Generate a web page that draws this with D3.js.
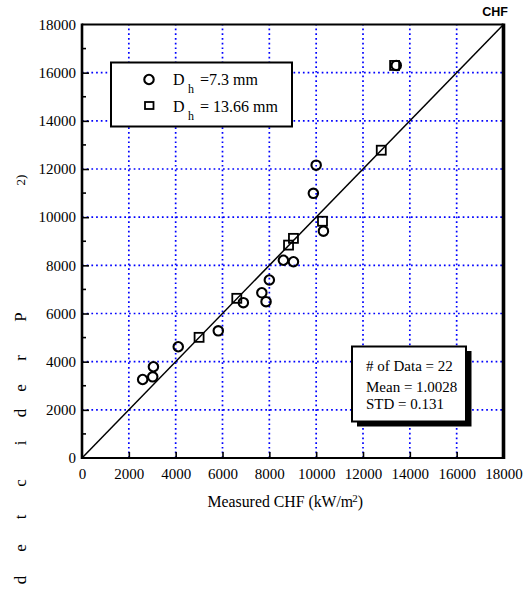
<!DOCTYPE html>
<html>
<head>
<meta charset="utf-8">
<script src="https://cdn.jsdelivr.net/npm/d3@7/dist/d3.min.js"></script>
<style>
body{margin:0;background:#fff;}
svg{display:block;}
text{font-family:"Liberation Serif","Times New Roman",serif;fill:#000;}
</style>
</head>
<body>
<svg id="chart" width="531" height="590"></svg>
<script>
// ---- data ----
const seriesSmall = [ // Dh = 7.3 mm  [measured, predicted]
  [13420, 16300], [10000, 12160], [9880, 10990], [10310, 9420],
  [9030, 8150], [8600, 8210], [8000, 7390], [7680, 6860],
  [7860, 6490], [6890, 6450], [5820, 5280], [4110, 4620],
  [3050, 3790], [3020, 3370], [2590, 3260]
];
const seriesLarge = [ // Dh = 13.66 mm
  [13350, 16300], [12780, 12780], [10270, 9830], [9030, 9120],
  [8820, 8840], [6610, 6630], [5000, 5010]
];
const xTicks = [0, 2000, 4000, 6000, 8000, 10000, 12000, 14000, 16000, 18000];
const yTicks = [0, 2000, 4000, 6000, 8000, 10000, 12000, 14000, 16000, 18000];
const yMinorTicks = [1000, 3000, 5000, 7000, 9000, 11000, 13000, 15000, 17000];
const legendLabels = ["=7.3 mm", "= 13.66 mm"];
const statsLines = ["# of Data = 22", "Mean = 1.0028", "STD = 0.131"];
const yLabelLetters = ["P","r","e","d","i","c","t","e","d"];

// ---- layout ----
const SERIF = '"Liberation Serif","Times New Roman",serif';
const svg = d3.select("#chart");
const x = d3.scaleLinear().domain([0, 18000]).range([82, 503.5]);
const y = d3.scaleLinear().domain([0, 18000]).range([458, 24.5]);

// grid
const grid = svg.append("g");
grid.selectAll(".gx").data(xTicks.slice(1, -1)).join("line")
  .attr("x1", d => x(d)).attr("x2", d => x(d))
  .attr("y1", y(0)).attr("y2", y(18000))
  .attr("stroke", "#0000ff").attr("stroke-width", 1.7).attr("stroke-dasharray", "1.7,3");
grid.selectAll(".gy").data(yTicks.slice(1, -1)).join("line")
  .attr("y1", d => y(d)).attr("y2", d => y(d))
  .attr("x1", x(0)).attr("x2", x(18000))
  .attr("stroke", "#0000ff").attr("stroke-width", 1.7).attr("stroke-dasharray", "1.7,3");

// axes via d3
const xAxis = d3.axisBottom(x).tickValues(xTicks).tickSize(-6).tickPadding(10).tickFormat(d3.format("d"));
const gx = svg.append("g").attr("transform", `translate(0,${y(0)})`).call(xAxis)
  .attr("font-family", SERIF).attr("font-size", 15);
gx.select(".domain").remove();
gx.selectAll(".tick line").attr("stroke-width", 1.6).filter(d => d === 0 || d === 18000).remove();
gx.selectAll(".tick text").style("font-family", SERIF).style("font-size", "15px");

const yAxis = d3.axisLeft(y).tickValues(yTicks).tickSize(-7).tickPadding(6).tickFormat(d3.format("d"));
const gy = svg.append("g").attr("transform", `translate(${x(0)},0)`).call(yAxis)
  .attr("font-family", SERIF).attr("font-size", 15);
gy.select(".domain").remove();
gy.selectAll(".tick line").attr("stroke-width", 1.6).filter(d => d === 0 || d === 18000).remove();
gy.selectAll(".tick text").style("font-family", SERIF).style("font-size", "15px");

svg.append("g").selectAll("line").data(yMinorTicks).join("line")
  .attr("x1", x(0)).attr("x2", x(0) + 4)
  .attr("y1", d => y(d)).attr("y2", d => y(d))
  .attr("stroke", "#000").attr("stroke-width", 1.6);

// frame
svg.append("line").attr("x1", x(0)).attr("x2", x(18000)).attr("y1", y(18000)).attr("y2", y(18000)).attr("stroke", "#000").attr("stroke-width", 2);
svg.append("line").attr("x1", x(0)).attr("x2", x(18000)).attr("y1", y(0)).attr("y2", y(0)).attr("stroke", "#000").attr("stroke-width", 2);
svg.append("line").attr("x1", x(0)).attr("x2", x(0)).attr("y1", y(0) + 1).attr("y2", y(18000) - 1).attr("stroke", "#000").attr("stroke-width", 2.6);
svg.append("line").attr("x1", x(18000)).attr("x2", x(18000)).attr("y1", y(0) + 1).attr("y2", y(18000) - 1).attr("stroke", "#000").attr("stroke-width", 3.6);

// diagonal
svg.append("line").attr("x1", x(0)).attr("y1", y(0)).attr("x2", x(18000)).attr("y2", y(18000))
  .attr("stroke", "#000").attr("stroke-width", 1.5);

// markers
const circ = d3.symbol().type(d3.symbolCircle).size(70);
svg.append("g").selectAll("path").data(seriesSmall).join("path")
  .attr("d", circ)
  .attr("transform", d => `translate(${x(d[0])},${y(d[1])})`)
  .attr("fill", "none").attr("stroke", "#000").attr("stroke-width", 2.1);
svg.append("g").selectAll("rect").data(seriesLarge).join("rect")
  .attr("x", d => x(d[0]) - 4.5).attr("y", d => y(d[1]) - 4.5)
  .attr("width", 9).attr("height", 9)
  .attr("fill", "none").attr("stroke", "#000").attr("stroke-width", 1.8);

// legend
const lg = svg.append("g");
lg.append("rect").attr("x", 111).attr("y", 62.5).attr("width", 181).attr("height", 64)
  .attr("fill", "#fff").attr("stroke", "#000").attr("stroke-width", 2);
lg.append("path").attr("d", circ).attr("transform", "translate(149,79.5)")
  .attr("fill", "none").attr("stroke", "#000").attr("stroke-width", 2.1);
lg.append("rect").attr("x", 145).attr("y", 102).attr("width", 8.5).attr("height", 7)
  .attr("fill", "none").attr("stroke", "#000").attr("stroke-width", 1.8);
legendLabels.forEach((lab, i) => {
  const by = 85 + i * 26.5;
  lg.append("text").attr("x", 173).attr("y", by).style("font-size", "16px").text("D");
  lg.append("text").attr("x", 188).attr("y", by + 8).style("font-size", "12px").text("h");
  lg.append("text").attr("x", 200).attr("y", by).style("font-size", "16px").text(lab);
});

// stats box
const sb = svg.append("g");
sb.append("rect").attr("x", 357).attr("y", 351).attr("width", 114.5).attr("height", 75.5).attr("fill", "#000");
sb.append("rect").attr("x", 352).attr("y", 346.5).attr("width", 114).attr("height", 75)
  .attr("fill", "#fff").attr("stroke", "#000").attr("stroke-width", 2);
statsLines.forEach((t, i) => {
  sb.append("text").attr("x", 366).attr("y", 371 + [0, 20.5, 37.5][i]).style("font-size", "15px").text(t);
});

// title
svg.append("text").attr("x", 508).attr("y", 16).attr("text-anchor", "end")
  .style("font-family", '"Liberation Sans",Arial,sans-serif').style("font-weight", "bold").style("font-size", "12.5px").text("CHF");

// x label
const xl = svg.append("text").attr("x", 207.5).attr("y", 506.5).style("font-size", "15.8px");
xl.append("tspan").text("Measured CHF (kW/m");
xl.append("tspan").attr("dx", -1).attr("dy", -5).style("font-size", "11px").text("2");
xl.append("tspan").attr("dy", 5).text(")");

// y label (broken, as in reference)
const letterY = [317, 358, 388, 413, 443, 483, 517, 548, 580];
yLabelLetters.forEach((c, i) => {
  svg.append("text").attr("transform", `translate(20,${letterY[i]}) rotate(-90)`)
    .attr("text-anchor", "middle").attr("dy", "0.35em").style("font-size", "17px").text(c);
});
svg.append("text").attr("transform", "translate(20,180) rotate(-90)")
  .attr("text-anchor", "middle").attr("dy", "0.35em").style("font-size", "13px").text("2)");
</script>
</body>
</html>
